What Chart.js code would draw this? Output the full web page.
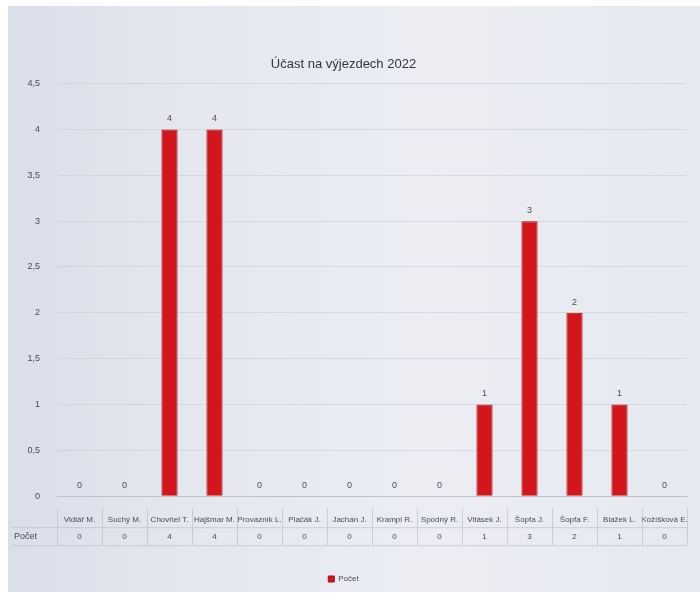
<!DOCTYPE html>
<html>
<head>
<meta charset="utf-8">
<script src="https://cdn.jsdelivr.net/npm/chart.js@4"></script>
<style>
  html, body { margin: 0; padding: 0; background: #ffffff; }
  .photo {
    position: absolute; left: 8px; top: 6px; width: 692px; height: 586px;
    background: linear-gradient(90deg, #d9dee9 0%, #e4e7ef 25%, #ebedf3 60%, #e7e9f0 100%);
  }
  .wrap { position: absolute; left: 0; top: 0; width: 700px; height: 601px; }
</style>
</head>
<body>
<div class="photo"></div>
<div class="wrap"><canvas id="chart" width="700" height="601"></canvas></div>
<script>
const NAMES = ['Vidlář M.', 'Suchý M.', 'Chovňel T.', 'Hajšmar M.', 'Provazník L.', 'Plačák J.', 'Jachan J.',
               'Krampl R.', 'Spodný R.', 'Vitásek J.', 'Šopfa J.', 'Šopfa F.', 'Blažek L.', 'Kožíšková E.'];
const POCET = [0, 0, 4, 4, 0, 0, 0, 0, 0, 1, 3, 2, 1, 0];
const Y_TICKS = [0, 0.5, 1, 1.5, 2, 2.5, 3, 3.5, 4, 4.5];
const TITLE = 'Účast na výjezdech 2022';
const SERIES = 'Počet';

const TEXT = '#4a4c58';
const FONT = 'Liberation Sans, Arial, sans-serif';

// popisky nad sloupci + tabulka dat pod osou
const extras = {
  id: 'extras',
  afterDatasetsDraw(chart) {
    const ctx = chart.ctx;
    const meta = chart.getDatasetMeta(0);
    ctx.save();
    ctx.fillStyle = TEXT;
    ctx.font = '9px ' + FONT;
    ctx.textAlign = 'center';
    ctx.textBaseline = 'bottom';
    meta.data.forEach((bar, i) => {
      ctx.fillText(String(POCET[i]).replace('.', ','), bar.x, bar.y - 6);
    });
    ctx.restore();
  },
  afterDraw(chart) {
    const ctx = chart.ctx;
    const x = chart.scales.x;
    const area = chart.chartArea;
    const rowTop = area.bottom + 12;
    const rowMid = area.bottom + 31;
    const rowBot = area.bottom + 49;
    ctx.save();
    ctx.strokeStyle = 'rgba(180,186,200,0.6)';
    ctx.lineWidth = 1;
    ctx.beginPath();
    ctx.moveTo(12, rowMid + 0.5); ctx.lineTo(area.right, rowMid + 0.5);
    ctx.moveTo(12, rowBot + 0.5); ctx.lineTo(area.right, rowBot + 0.5);
    for (let i = 0; i <= NAMES.length; i++) {
      const px = Math.round(x.left + i * (x.width / NAMES.length)) + 0.5;
      ctx.moveTo(px, rowTop); ctx.lineTo(px, rowBot);
    }
    ctx.stroke();
    ctx.fillStyle = TEXT;
    ctx.font = '9px ' + FONT;
    ctx.textAlign = 'left';
    ctx.textBaseline = 'middle';
    ctx.fillText(SERIES, 14, area.bottom + 40);
    ctx.restore();
  }
};

new Chart(document.getElementById('chart'), {
  type: 'bar',
  data: {
    labels: NAMES,
    datasets: [{
      label: SERIES,
      data: POCET,
      backgroundColor: '#d2161b',
      borderColor: '#9e0f12',
      borderWidth: 1,
      barPercentage: 0.36,
      categoryPercentage: 1
    }]
  },
  options: {
    responsive: false,
    animation: false,
    layout: { padding: { left: 0, right: 13, top: 0, bottom: 8 } },
    plugins: {
      title: {
        display: true, text: TITLE, color: '#333540',
        font: { family: FONT, size: 13, weight: 'normal' },
        padding: { top: 57, bottom: 11 }
      },
      legend: {
        position: 'bottom',
        labels: {
          color: TEXT, font: { family: FONT, size: 8 },
          boxWidth: 6, boxHeight: 6, padding: 4
        }
      },
      tooltip: { enabled: false }
    },
    scales: {
      y: {
        min: 0, max: 4.5,
        afterFit: s => { s.width = 57; },
        afterBuildTicks: s => { s.ticks = Y_TICKS.map(v => ({ value: v })); },
        border: { display: false },
        grid: { color: 'rgba(200,204,214,0.55)', drawTicks: false },
        ticks: {
          color: TEXT, font: { family: FONT, size: 9 }, padding: 17,
          callback: v => String(v).replace('.', ',')
        }
      },
      x: {
        afterFit: s => { s.height += 18; },
        border: { display: true, color: 'rgba(180,186,200,0.7)' },
        grid: { display: false },
        ticks: {
          color: TEXT, font: { family: FONT, size: 8, lineHeight: 2.1 }, padding: 7.6,
          maxRotation: 0, autoSkip: false,
          callback: (v, i) => [NAMES[i], String(POCET[i])]
        }
      }
    }
  },
  plugins: [extras]
});
</script>
</body>
</html>
